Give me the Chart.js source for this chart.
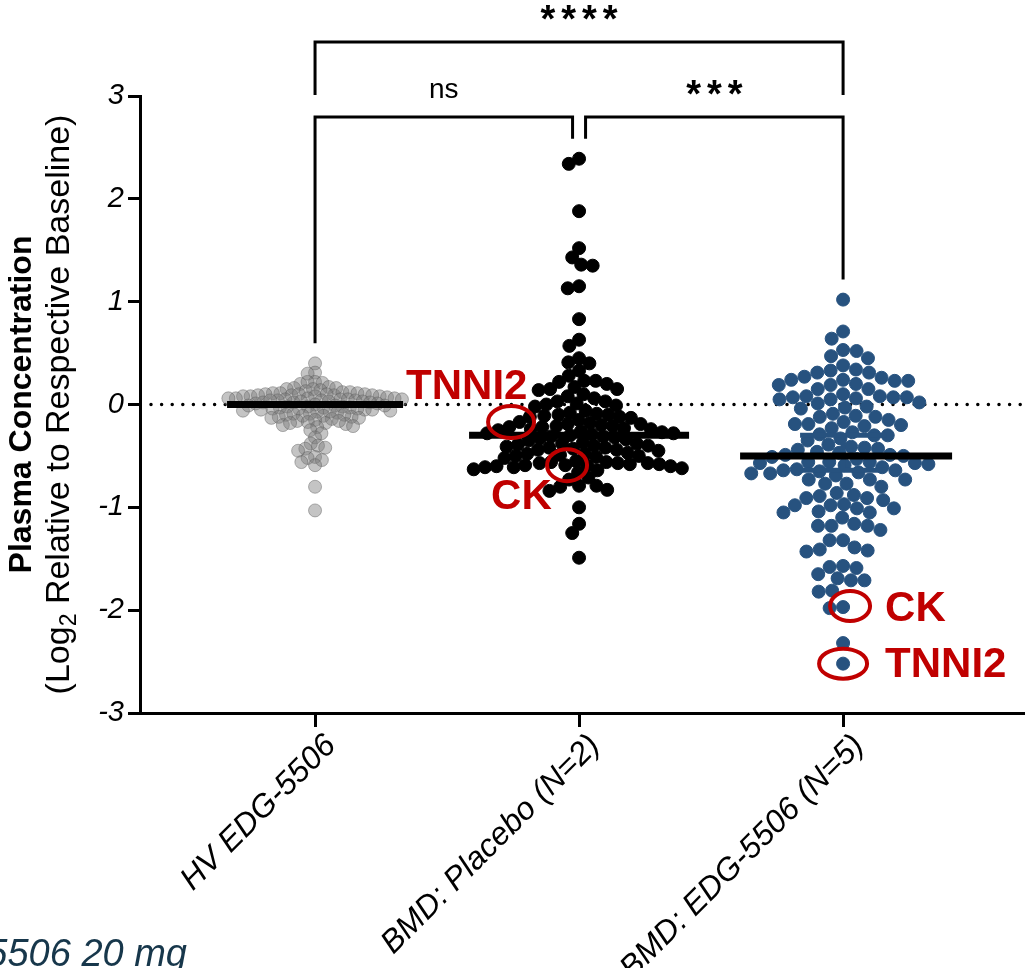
<!DOCTYPE html>
<html>
<head>
<meta charset="utf-8">
<script src="https://cdn.jsdelivr.net/npm/chart.js@4/dist/chart.umd.min.js"></script>
<style>
  html, body { margin: 0; padding: 0; background: #fff; overflow: hidden; }
  canvas { display: block; }
</style>
</head>
<body>
<canvas id="chart" width="1025" height="968"></canvas>
<script>
const groups = ["HV EDG-5506", "BMD: Placebo (N=2)", "BMD: EDG-5506 (N=5)"];
const yTicks = [-3, -2, -1, 0, 1, 2, 3];

// log2 fold change per analyte, one array per group
const hvValues = [
  0.40, 0.31, 0.30, 0.22, 0.21, 0.20, 0.22,
  0.17, 0.16, 0.15, 0.14, 0.16, 0.15, 0.13,
  0.09, 0.08, 0.10, 0.11, 0.12, 0.09, 0.10, 0.08, 0.11, 0.12, 0.10, 0.09, 0.11, 0.08, 0.10, 0.07, 0.09, 0.08,
  0.06, 0.05, 0.04, 0.03, 0.06, 0.02, 0.05, 0.04, 0.03, 0.01, 0.06, 0.05, 0.02, 0.04, 0.03, 0.05, 0.01, 0.02, 0.04, 0.06,
  0.00, -0.01, -0.02, -0.03, -0.04, -0.05, -0.06, -0.01, -0.02, -0.03, -0.05, -0.04, -0.06, -0.07, -0.02, -0.03, -0.01, -0.05, -0.04, -0.07,
  -0.09, -0.10, -0.08, -0.12, -0.11, -0.13, -0.09, -0.12, -0.10, -0.14, -0.11, -0.13,
  -0.16, -0.18, -0.15, -0.19, -0.17, -0.20, -0.16, -0.18, -0.21,
  -0.22, -0.25, -0.28, -0.32, -0.38, -0.40, -0.42, -0.43, -0.45, -0.51, -0.52, -0.54, -0.56, -0.59,
  -0.80, -1.03
];
const placeboValues = [
  2.39, 2.34, 1.88, 1.52, 1.43, 1.36, 1.35, 1.15, 1.13, 0.83, 0.63,
  0.57, 0.45, 0.41, 0.40, 0.33, 0.28, 0.23, 0.23, 0.22, 0.20, 0.17, 0.15, 0.15, 0.14, 0.10, 0.08, 0.06,
  0.03, 0.01, 0.00, -0.01, -0.02, 0.03,
  -0.06, -0.08, -0.09, -0.10, -0.10, -0.11, -0.12, -0.12, -0.13, -0.15,
  -0.17, -0.18, -0.19, -0.20, -0.21, -0.22, -0.22, -0.23, -0.24, -0.25, -0.19, -0.21, -0.24,
  -0.26, -0.27, -0.28, -0.29, -0.30, -0.31, -0.32, -0.33, -0.34, -0.35, -0.28, -0.31,
  -0.37, -0.38, -0.39, -0.40, -0.41, -0.42, -0.43, -0.44, -0.45, -0.38, -0.40, -0.42, -0.44,
  -0.47, -0.48, -0.49, -0.50, -0.51, -0.52, -0.48, -0.50,
  -0.55, -0.56, -0.57, -0.58, -0.59, -0.60, -0.61, -0.62, -0.56, -0.57, -0.58, -0.59, -0.60, -0.61, -0.57, -0.59,
  -0.63, -0.64, -0.66, -0.71, -0.73, -0.79, -0.79, -0.80, -0.83, -0.84, -1.00, -1.16, -1.25, -1.49
];
const edgValues = [
  1.02, 0.71, 0.64, 0.52, 0.53, 0.47, 0.45, 0.38, 0.33, 0.31, 0.34, 0.24, 0.23, 0.27, 0.26, 0.20, 0.31,
  0.23, 0.24, 0.19, 0.15, 0.15, 0.19, 0.10, 0.08, 0.07, 0.08, 0.07, 0.05, 0.05, 0.02, 0.01, -0.02, 0.06,
  0.07, -0.03, -0.04, -0.09, -0.15, -0.12, -0.11, -0.12, -0.19, -0.20, -0.21, -0.19, -0.17, -0.23, -0.27,
  -0.35, -0.30, -0.33, -0.30, -0.29, -0.41, -0.39, -0.44, -0.46, -0.43, -0.50, -0.42, -0.56, -0.57, -0.56,
  -0.49, -0.49, -0.47, -0.56, -0.57, -0.51, -0.53, -0.66, -0.67, -0.59, -0.61, -0.58, -0.64, -0.65, -0.64,
  -0.63, -0.69, -0.73, -0.73, -0.77, -0.77, -0.67, -0.73, -0.80, -0.86, -0.89, -0.88, -0.91, -0.93, -0.91,
  -1.01, -0.97, -1.01, -0.98, -1.10, -0.98, -1.05, -1.04, -1.05, -1.16, -1.22, -1.18, -1.18, -1.18, -1.32,
  -1.43, -1.41, -1.39, -1.32, -1.42, -1.57, -1.59, -1.58, -1.69, -1.71, -1.71, -1.65, -1.82, -1.81, -1.97,
  -1.98, -2.32, -2.52
];
const seriesValues = [hvValues, placeboValues, edgValues];

// central line per group and the interval drawn on the EDG-5506 group
const centerLine = [0, -0.3, -0.5];
const edgInterval = [-0.30, -0.64];

// pairwise comparisons: [group a, group b, significance]
const comparisons = [[0, 2, "****"], [0, 1, "ns"], [1, 2, "***"]];

// highlighted analytes: [group, value, name]
const callouts = [[1, -0.17, "TNNI2"], [1, -0.59, "CK"], [2, -1.96, "CK"], [2, -2.52, "TNNI2"]];

const yTitleMain = "Plasma Concentration";
const yTitleSub = ["(Log", "2", " Relative to Respective Baseline)"];
const footnote = "EDG-5506 20 mg";

const FONT = "'Liberation Sans', Arial, sans-serif";
const BLUE = "#27527f";
const RED = "#c00000";

Chart.defaults.font.family = FONT;
Chart.defaults.color = "#000";

// classic beeswarm: each point goes to the free spot closest to the centre
function swarmOffsets(pys, gap) {
  const order = pys.map((_, i) => i).sort((a, b) => pys[a] - pys[b]);
  const placed = [];
  const out = new Array(pys.length).fill(0);
  order.forEach((i) => {
    const y = pys[i];
    const near = placed.filter((p) => Math.abs(p.y - y) < gap);
    const cands = [0];
    near.forEach((p) => {
      const dx = Math.sqrt(gap * gap - (p.y - y) ** 2);
      cands.push(p.x - dx, p.x + dx);
    });
    cands.sort((a, b) => Math.abs(a) - Math.abs(b));
    const x = cands.find((c) => near.every((p) => (p.x - c) ** 2 + (p.y - y) ** 2 >= gap * gap - 0.01));
    out[i] = x;
    placed.push({ x, y });
  });
  return out;
}

const zeroLine = {
  id: "zeroLine",
  beforeDatasetsDraw(chart) {
    const { ctx, chartArea, scales } = chart;
    const y = scales.y.getPixelForValue(0);
    ctx.save();
    ctx.strokeStyle = "#000";
    ctx.lineWidth = 3.5;
    ctx.lineCap = "round";
    ctx.setLineDash([0, 10.6]);
    ctx.beginPath();
    ctx.moveTo(chartArea.left + 11, y);
    ctx.lineTo(chartArea.right, y);
    ctx.stroke();
    ctx.restore();
  },
};

const summaryBars = {
  id: "summaryBars",
  afterDatasetsDraw(chart) {
    const { ctx, scales } = chart;
    const halfW = [88, 110, 106];
    const shift = [0, 0, 3];
    ctx.save();
    // interval on the EDG-5506 group
    const cx = scales.x.getPixelForValue(2);
    const y1 = scales.y.getPixelForValue(edgInterval[0]);
    const y2 = scales.y.getPixelForValue(edgInterval[1]);
    ctx.strokeStyle = BLUE;
    ctx.lineWidth = 5;
    ctx.beginPath();
    ctx.moveTo(cx, y1); ctx.lineTo(cx, y2);
    ctx.moveTo(cx - 43, y1); ctx.lineTo(cx + 43, y1);
    ctx.moveTo(cx - 43, y2); ctx.lineTo(cx + 43, y2);
    ctx.stroke();
    ctx.strokeStyle = "#000";
    ctx.lineWidth = 7;
    centerLine.forEach((v, g) => {
      const x = scales.x.getPixelForValue(g) + shift[g];
      const y = scales.y.getPixelForValue(v);
      ctx.beginPath();
      ctx.moveTo(x - halfW[g], y);
      ctx.lineTo(x + halfW[g], y);
      ctx.stroke();
    });
    ctx.restore();
  },
};

const brackets = {
  id: "brackets",
  afterDraw(chart) {
    const { ctx, scales } = chart;
    const gx = (g) => scales.x.getPixelForValue(g);
    const top = (g) => scales.y.getPixelForValue(Math.max(...seriesValues[g])) - 20;
    ctx.save();
    ctx.strokeStyle = "#000";
    ctx.fillStyle = "#000";
    ctx.lineWidth = 3;
    ctx.textAlign = "center";
    ctx.textBaseline = "middle";
    comparisons.forEach(([a, b, label]) => {
      const wide = b - a > 1;
      const barY = wide ? 42 : 117;
      let xa = gx(a), xb = gx(b);
      if (!wide) {
        if (a === 1) xa += 6.5;
        if (b === 1) xb -= 6.5;
      }
      const ya = wide ? 95 : top(a);
      const yb = wide ? 95 : top(b);
      ctx.beginPath();
      ctx.moveTo(xa, ya);
      ctx.lineTo(xa, barY);
      ctx.lineTo(xb, barY);
      ctx.lineTo(xb, yb);
      ctx.stroke();
      if (label === "ns") {
        ctx.font = "28px " + FONT;
        ctx.letterSpacing = "0px";
        ctx.fillText(label, (xa + xb) / 2, barY - 27);
      } else {
        ctx.font = "bold 38px " + FONT;
        ctx.letterSpacing = "6px";
        ctx.fillText(label, (xa + xb) / 2 + 3, barY - 20);
      }
    });
    ctx.restore();
  },
};

const calloutMarks = {
  id: "calloutMarks",
  afterDraw(chart) {
    const { ctx, scales } = chart;
    // ellipse offset/size and label anchor, relative to the group centre
    const looks = [
      { dx: -68, rx: 23, ry: 16, tx: -173, ty: -35 },
      { dx: -12, rx: 20, ry: 16, tx: -88, ty: 32 },
      { dx: 7, rx: 20, ry: 15, tx: 42, ty: 3 },
      { dx: 0, rx: 24, ry: 15, tx: 42, ty: 2 },
    ];
    ctx.save();
    ctx.strokeStyle = RED;
    ctx.fillStyle = RED;
    ctx.lineWidth = 4;
    ctx.font = "bold 42px " + FONT;
    ctx.textAlign = "left";
    ctx.textBaseline = "middle";
    callouts.forEach(([g, v, name], i) => {
      const s = looks[i];
      const cx = scales.x.getPixelForValue(g) + s.dx;
      const cy = scales.y.getPixelForValue(v);
      ctx.beginPath();
      ctx.ellipse(cx, cy, s.rx, s.ry, 0, 0, Math.PI * 2);
      ctx.stroke();
      ctx.fillText(name, scales.x.getPixelForValue(g) + s.tx, cy + s.ty);
    });
    ctx.restore();
  },
};

const yTitle = {
  id: "yTitle",
  afterDraw(chart) {
    const { ctx, chartArea } = chart;
    const cy = (chartArea.top + chartArea.bottom) / 2;
    ctx.save();
    ctx.fillStyle = "#000";
    ctx.textBaseline = "middle";
    ctx.textAlign = "center";
    ctx.translate(22, cy);
    ctx.rotate(-Math.PI / 2);
    ctx.font = "bold 32px " + FONT;
    ctx.fillText(yTitleMain, 0, 0);
    ctx.restore();

    ctx.save();
    ctx.fillStyle = "#000";
    ctx.textBaseline = "middle";
    ctx.textAlign = "left";
    ctx.translate(60, cy);
    ctx.rotate(-Math.PI / 2);
    const big = "34px " + FONT, small = "23px " + FONT;
    ctx.font = big;
    const w0 = ctx.measureText(yTitleSub[0]).width;
    const w2 = ctx.measureText(yTitleSub[2]).width;
    ctx.font = small;
    const w1 = ctx.measureText(yTitleSub[1]).width;
    let x = -(w0 + w1 + w2) / 2;
    ctx.font = big;
    ctx.fillText(yTitleSub[0], x, 0);
    x += w0;
    ctx.font = small;
    ctx.fillText(yTitleSub[1], x, 10);
    x += w1;
    ctx.font = big;
    ctx.fillText(yTitleSub[2], x, 0);
    ctx.restore();

    // footnote running off the lower left edge
    ctx.save();
    ctx.fillStyle = "#17374b";
    ctx.font = "italic 38px " + FONT;
    ctx.textAlign = "right";
    ctx.textBaseline = "alphabetic";
    ctx.fillText(footnote, 187, 966);
    ctx.restore();
  },
};

// let the plot run flush to the right edge of the canvas
const flushRight = {
  id: "flushRight",
  afterLayout(chart) {
    const gap = chart.width - chart.chartArea.right;
    if (gap > 0) {
      chart.chartArea.right += gap;
      chart.chartArea.width += gap;
      const x = chart.scales.x;
      x.right += gap;
      x.width += gap;
      x.configure();
    }
  },
};

const makeSet = (g, bg, border) => ({
  data: seriesValues[g].map((v) => ({ x: g, y: v })),
  pointRadius: 6.5,
  pointHoverRadius: 6.5,
  pointBackgroundColor: bg,
  pointBorderColor: border,
  pointBorderWidth: 1,
});

const chart = new Chart(document.getElementById("chart"), {
  type: "scatter",
  data: {
    datasets: [
      makeSet(0, "rgba(125,125,125,0.45)", "rgba(90,90,90,0.45)"),
      makeSet(1, "#000", "#000"),
      makeSet(2, BLUE, BLUE),
    ],
  },
  options: {
    responsive: false,
    animation: false,
    events: [],
    layout: { padding: { top: 96, left: 0, right: 0, bottom: 0 } },
    plugins: { legend: { display: false }, tooltip: { enabled: false } },
    scales: {
      x: {
        type: "linear",
        min: -0.663,
        max: 2.689,
        afterBuildTicks: (scale) => { scale.ticks = groups.map((_, i) => ({ value: i })); },
        afterFit: (scale) => {
          scale.height = 255;
          scale.paddingLeft = 0;
          scale.paddingRight = 0;
        },
        ticks: {
          callback: (v) => groups[v],
          minRotation: 45,
          maxRotation: 45,
          padding: 0,
          labelOffset: 16,
          font: { size: 32, style: "italic" },
          color: "#000",
        },
        grid: { drawOnChartArea: false, drawTicks: true, tickLength: 14, color: "#000", lineWidth: 3 },
        border: { display: true, color: "#000", width: 3 },
      },
      y: {
        min: -3,
        max: 3,
        afterBuildTicks: (scale) => { scale.ticks = yTicks.map((v) => ({ value: v })); },
        afterFit: (scale) => { scale.width = 140; },
        ticks: { padding: 4, font: { size: 29, style: "italic" }, color: "#000" },
        grid: { drawOnChartArea: false, drawTicks: true, tickLength: 12, color: "#000", lineWidth: 3 },
        border: { display: true, color: "#000", width: 3 },
      },
    },
  },
  plugins: [flushRight, zeroLine, summaryBars, brackets, calloutMarks, yTitle],
});

// spread each group sideways so the dots don't stack
const swarmGap = [7.5, 11.5, 13.5];
const xs = chart.scales.x, ys = chart.scales.y;
const unit = xs.getPixelForValue(1) - xs.getPixelForValue(0);
chart.data.datasets.forEach((ds, g) => {
  const offs = swarmOffsets(seriesValues[g].map((v) => ys.getPixelForValue(v)), swarmGap[g]);
  ds.data = seriesValues[g].map((v, i) => ({ x: g + offs[i] / unit, y: v }));
});
chart.update("none");
</script>
</body>
</html>
